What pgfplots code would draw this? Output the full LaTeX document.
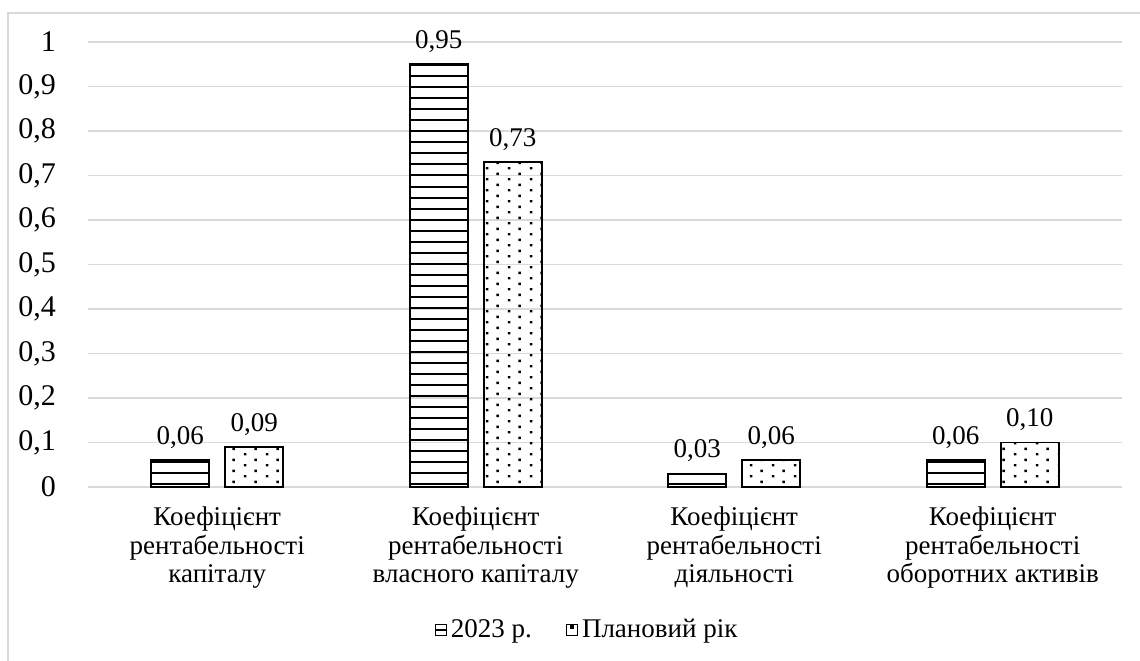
\documentclass[border=0pt]{standalone}
\usepackage{pgfplots}
\pgfplotsset{compat=1.18}
\usepackage{fontspec}
\setmainfont{Liberation Serif}
\usetikzlibrary{patterns}

% horizontal hatching for the 2023 bars
\pgfdeclarepatternformonly{hatchlines}{\pgfqpoint{-0.5pt}{-0.5pt}}{\pgfqpoint{6pt}{1pt}}{\pgfqpoint{5.5pt}{5.5pt}}{%
  \pgfsetlinewidth{1pt}%
  \pgfpathmoveto{\pgfqpoint{-0.1pt}{0.25pt}}%
  \pgfpathlineto{\pgfqpoint{5.6pt}{0.25pt}}%
  \pgfusepath{stroke}}

% staggered dots for the planned-year bars
\pgfdeclarepatternformonly{stagdots}{\pgfqpoint{0pt}{0pt}}{\pgfqpoint{11pt}{5.7pt}}{\pgfqpoint{11pt}{5.7pt}}{%
  \pgfpathrectangle{\pgfqpoint{1pt}{0.8pt}}{\pgfqpoint{1.3pt}{1.3pt}}%
  \pgfpathrectangle{\pgfqpoint{6.5pt}{3.65pt}}{\pgfqpoint{1.3pt}{1.3pt}}%
  \pgfusepath{fill}}

\definecolor{gridgray}{RGB}{217,217,217}

\begin{document}
\begin{tikzpicture}[x=1pt,y=1pt]
\useasboundingbox (0,0) rectangle (570,-330);
\draw[gridgray, line width=0.6pt] (4,-335) -- (4,-6.5) -- (575,-6.5);
\begin{axis}[
  at={(44pt,-243.5pt)}, anchor=south west,
  scale only axis, width=517pt, height=222.5pt,
  xmin=-0.5, xmax=3.5, ymin=0, ymax=1,
  ybar=8pt, bar width=29pt,
  axis line style={draw=none},
  major tick length=0pt,
  ymajorgrids, grid style={gridgray, line width=0.75pt},
  ytick={0,0.1,0.2,0.3,0.4,0.5,0.6,0.7,0.8,0.9,1},
  yticklabel={\pgfmathprintnumber[fixed,precision=1,use comma,assume math mode=true]{\tick}},
  yticklabel style={font=\fontsize{15}{17}\selectfont, xshift=-12.5pt},
  xtick={0,1,2,3},
  xticklabels={{Коефіцієнт\\рентабельності\\капіталу},
               {Коефіцієнт\\рентабельності\\власного капіталу},
               {Коефіцієнт\\рентабельності\\діяльності},
               {Коефіцієнт\\рентабельності\\оборотних активів}},
  xticklabel style={align=center, font=\fontsize{13.5}{14.2}\selectfont, yshift=-6.5pt},
  nodes near coords={\pgfmathprintnumber[fixed,fixed zerofill,precision=2,use comma,assume math mode=true]{\pgfplotspointmeta}},
  nodes near coords style={font=\fontsize{13.5}{14}\selectfont, black, yshift=2pt},
  legend columns=2,
  legend style={at={(0.4836,-0.3213)}, anchor=center, draw=none, fill=none,
    font=\fontsize{13.5}{14}\selectfont,
    /tikz/every even column/.append style={column sep=15pt}},
]
\addplot[draw=black, line width=0.9pt, pattern=hatchlines, pattern color=black,
  legend image code/.code={%
    \draw[black, line width=0.6pt, fill=white] (0pt,-2.75pt) rectangle (5.5pt,2.75pt);
    \draw[black, line width=0.6pt] (0pt,0pt) -- (5.5pt,0pt);}]
  coordinates {(0,0.06) (1,0.95) (2,0.03) (3,0.06)};
\addplot[draw=black, line width=0.9pt, pattern=stagdots, pattern color=black,
  legend image code/.code={%
    \draw[black, line width=0.6pt, fill=white] (0pt,-2.75pt) rectangle (5.5pt,2.75pt);
    \fill[black] (2.2pt,0.8pt) rectangle (3.3pt,1.9pt);}]
  coordinates {(0,0.09) (1,0.73) (2,0.06) (3,0.10)};
\legend{2023 р., Плановий рік}
\end{axis}
\end{tikzpicture}
\end{document}
